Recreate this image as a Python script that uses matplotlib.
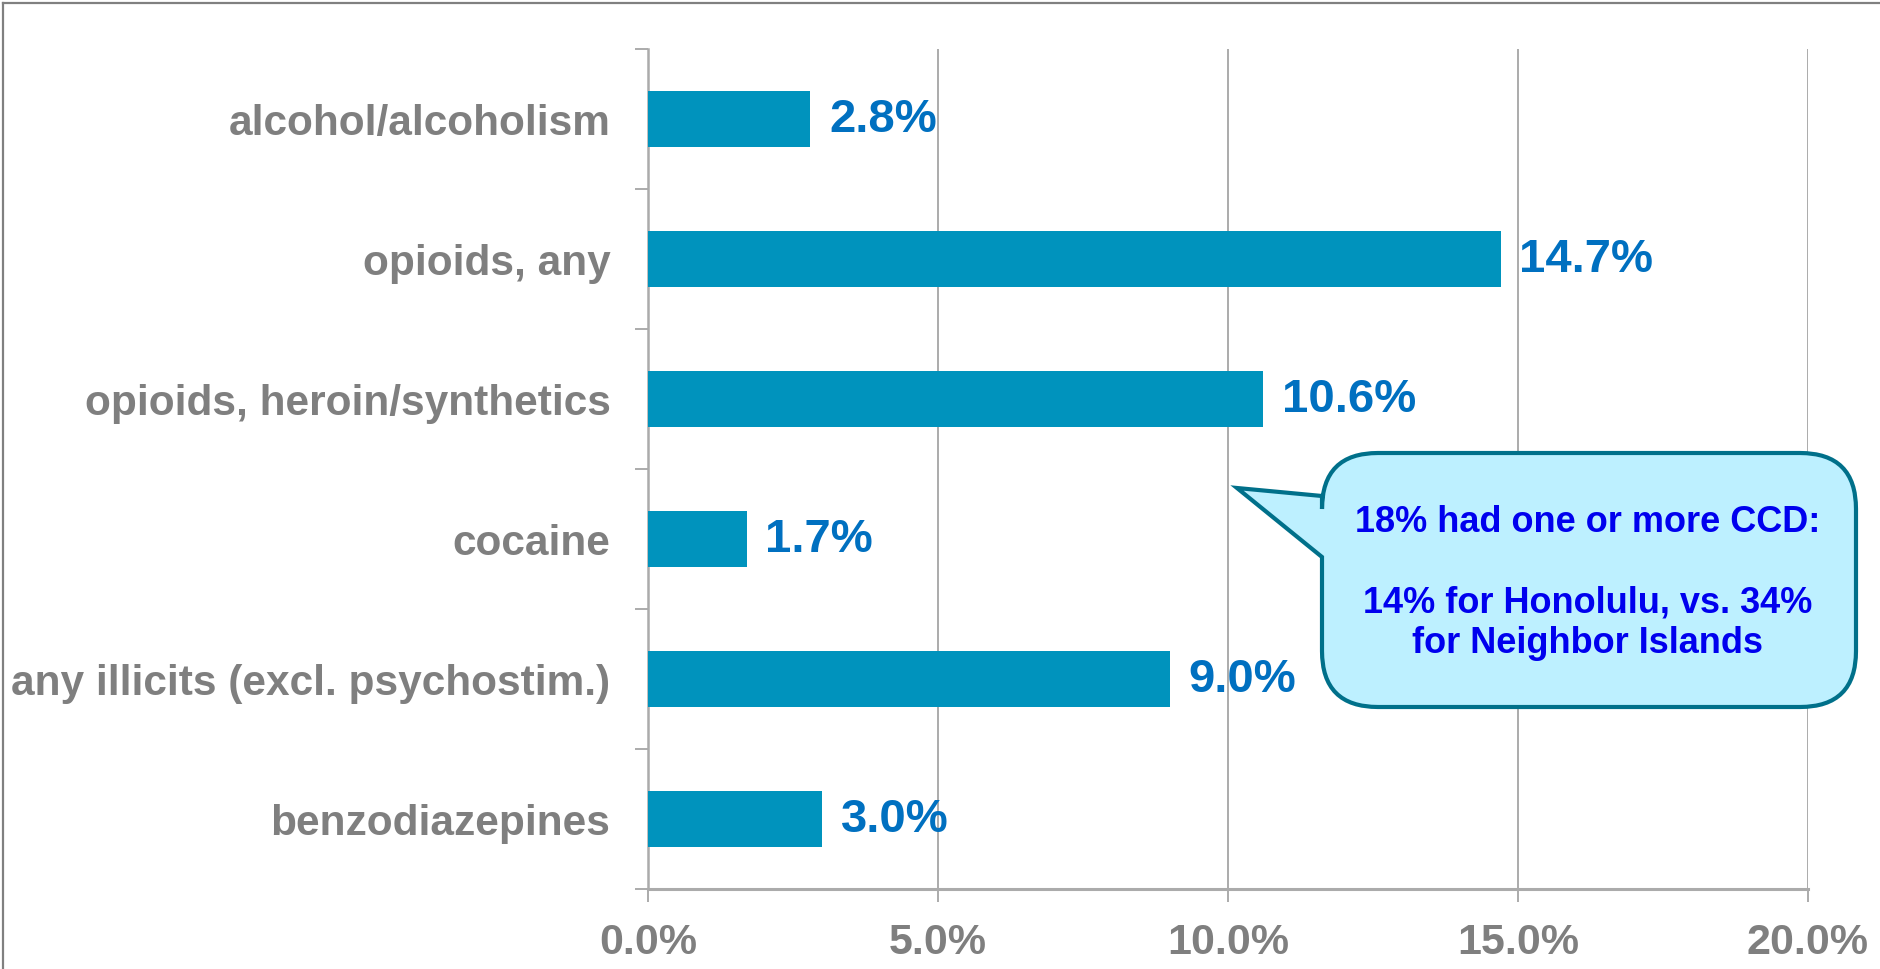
import matplotlib
matplotlib.use("Agg")
import matplotlib.pyplot as plt
from matplotlib.path import Path
from matplotlib.patches import PathPatch
from matplotlib.lines import Line2D
from matplotlib.ticker import FixedLocator

categories = ["alcohol/alcoholism", "opioids, any", "opioids, heroin/synthetics",
              "cocaine", "any illicits (excl. psychostim.)", "benzodiazepines"]
values = [2.8, 14.7, 10.6, 1.7, 9.0, 3.0]
x_ticks = [0, 5, 10, 15, 20]
x_tick_labels = ["0.0%", "5.0%", "10.0%", "15.0%", "20.0%"]
callout_text = "18% had one or more CCD:\n\n14% for Honolulu, vs. 34%\nfor Neighbor Islands"

W, H = 1881, 970
DPI = 100
FONT = ["Liberation Sans", "DejaVu Sans"]
plt.rcParams['font.family'] = FONT

BAR = "#0093BD"
VAL = "#0070C0"
GRAY_TXT = "#7F7F7F"
GRID = "#ABABAB"

fig = plt.figure(figsize=(W / DPI, H / DPI), dpi=DPI)
fig.patch.set_facecolor("white")

def fx(px):
    return px / W

def fy(py):
    return 1 - py / H

ax = fig.add_axes([fx(648), fy(890), fx(1808) - fx(648), fy(50) - fy(890)])

n = len(categories)
ypos = list(range(n))
ax.barh(ypos, values, height=0.4, color=BAR, zorder=3)
ax.set_ylim(n - 0.5, -0.5)
ax.set_xlim(0, 20)

# value labels
for y, v in zip(ypos, values):
    ax.annotate(f"{v:.1f}%", xy=(v, y), xytext=(13.5, 0), textcoords="offset points",
                va="center", ha="left", fontsize=34, fontweight="bold", color=VAL, zorder=4)

# x axis
ax.set_xticks(x_ticks)
ax.set_xticklabels(x_tick_labels, fontsize=31, fontweight="bold", color=GRAY_TXT)
ax.tick_params(axis="x", direction="out", length=9.5, width=1.4, color=GRID, pad=14)
ax.grid(axis="x", color=GRID, linewidth=1.4, zorder=0)

# y axis: major ticks at category boundaries, labels on minor positions
ax.yaxis.set_major_locator(FixedLocator([i - 0.5 for i in range(n + 1)]))
ax.yaxis.set_major_formatter(plt.NullFormatter())
ax.yaxis.set_minor_locator(FixedLocator(ypos))
ax.set_yticklabels(categories, minor=True, fontsize=30.5, fontweight="bold", color=GRAY_TXT)
ax.tick_params(axis="y", which="major", direction="out", length=9.5, width=1.4, color=GRID)
ax.tick_params(axis="y", which="minor", length=0, pad=27)

for s in ["top", "right"]:
    ax.spines[s].set_visible(False)
ax.spines["left"].set_color(GRID)
ax.spines["left"].set_linewidth(1.8)
ax.spines["bottom"].set_color(GRID)
ax.spines["bottom"].set_linewidth(2.2)
ax.set_axisbelow(True)

# callout (speech bubble) in figure pixel space
L, R, T, B = 1322, 1856, 454, 708
r = 56
tip = (1237, 489)
b_top, b_bot = 497, 558
pts = [
    ((L + r, T), Path.MOVETO),
    ((R - r, T), Path.LINETO),
    ((R, T), Path.CURVE3), ((R, T + r), Path.CURVE3),
    ((R, B - r), Path.LINETO),
    ((R, B), Path.CURVE3), ((R - r, B), Path.CURVE3),
    ((L + r, B), Path.LINETO),
    ((L, B), Path.CURVE3), ((L, B - r), Path.CURVE3),
    ((L, b_bot), Path.LINETO),
    (tip, Path.LINETO),
    ((L, b_top), Path.LINETO),
    ((L, T + r), Path.LINETO),
    ((L, T), Path.CURVE3), ((L + r, T), Path.CURVE3),
    ((L + r, T), Path.CLOSEPOLY),
]
verts = [(fx(p[0]), fy(p[1])) for p, _ in pts]
codes = [c for _, c in pts]
bubble = PathPatch(Path(verts, codes), transform=fig.transFigure, facecolor="#BDF0FF",
                   edgecolor="#00708A", linewidth=3.0, joinstyle="miter", zorder=10)
fig.add_artist(bubble)
fig.text(fx(1588), fy(583), callout_text, ha="center", va="center", fontsize=26,
         fontweight="bold", color="#0000EE", linespacing=1.2, zorder=11)

# figure border (left and top)
fig.add_artist(Line2D([fx(3), fx(3)], [fy(4), 0], transform=fig.transFigure, color="#808080", linewidth=1.6))
fig.add_artist(Line2D([fx(3), 1], [fy(4), fy(4)], transform=fig.transFigure, color="#808080", linewidth=1.6))

fig.savefig("out.png", dpi=DPI)
